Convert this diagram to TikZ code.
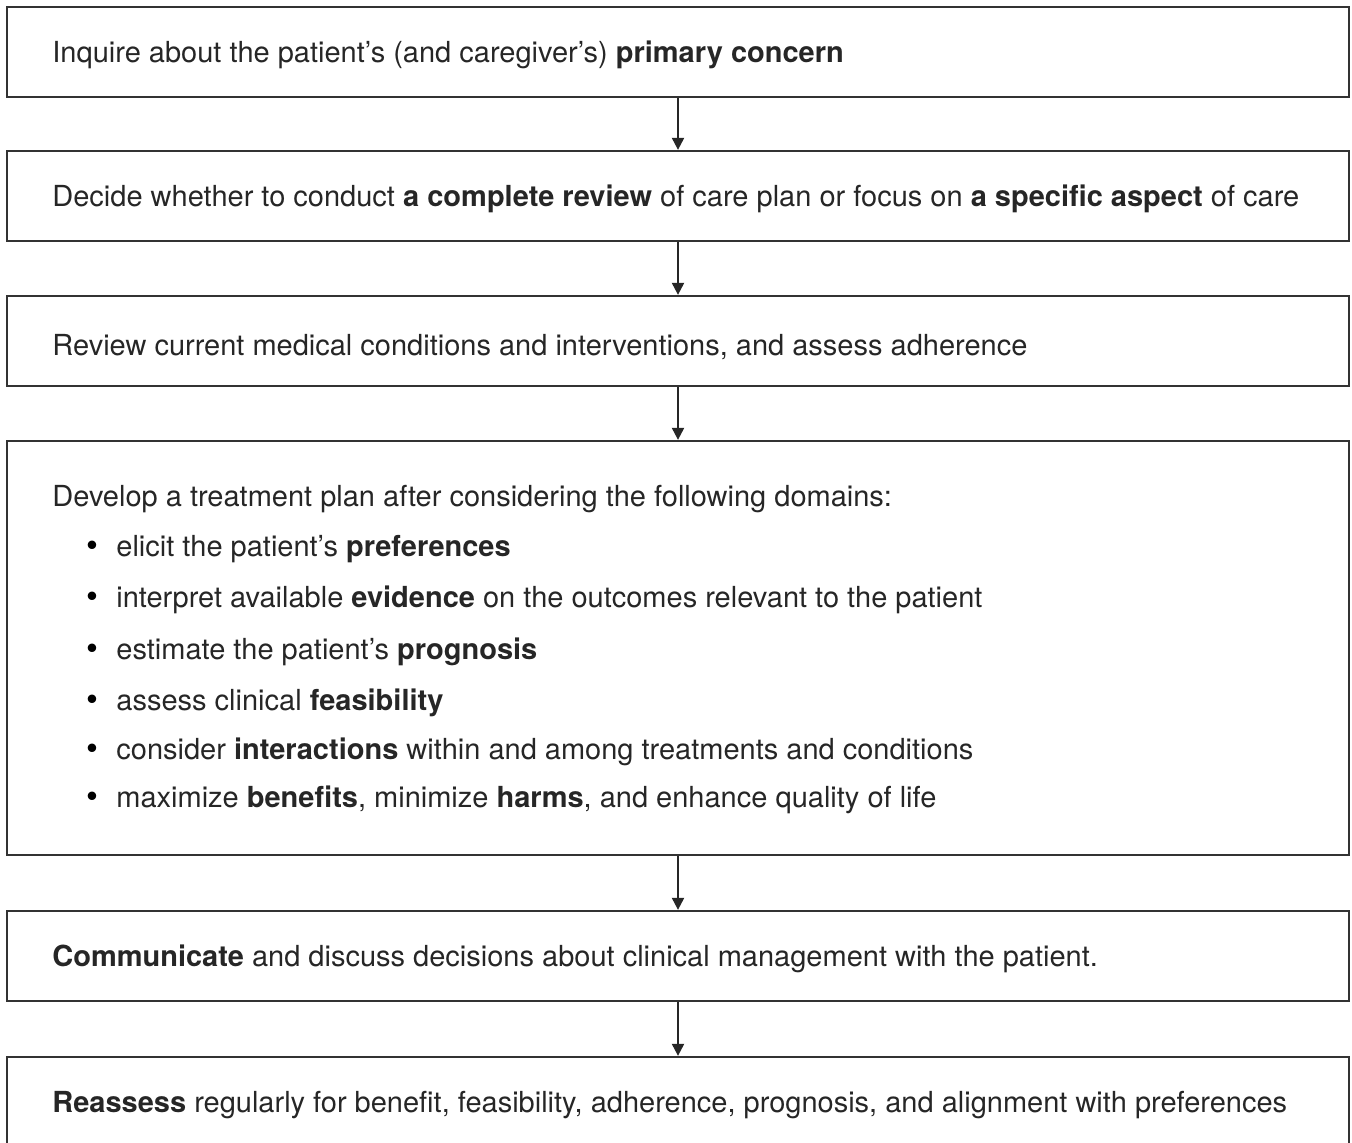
\documentclass[tikz,border=0pt]{standalone}
\usepackage{fontspec}
\setmainfont{TeX Gyre Heros}
\usetikzlibrary{arrows.meta}
\begin{document}
\begin{tikzpicture}[x=0.5pt,y=-0.5pt,
  box/.style={draw=black!80, line width=1.15pt, rectangle, inner sep=0pt, minimum width=671pt},
  txt/.style={anchor=base west, inner sep=0pt, font=\fontsize{14.5}{17}\selectfont, text=black!85},
  bul/.style={anchor=center, inner sep=0pt, font=\fontsize{17}{20}\selectfont\bfseries, text=black},
  conn/.style={draw=black!85, line width=1.05pt, -{Triangle[width=6pt,length=6pt]}}]
\useasboundingbox (0,0) rectangle (1352,1142);
\clip (0,0) rectangle (1352,1142);
% boxes
\node[box, minimum height=45pt] (b1) at (678,52) {};
\node[box, minimum height=45pt] (b2) at (678,196) {};
\node[box, minimum height=45pt] (b3) at (678,341) {};
\node[box, minimum height=207pt] (b4) at (678,648) {};
\node[box, minimum height=45pt] (b5) at (678,956) {};
\node[box, minimum height=60pt] (b6) at (678,1117) {};
% connectors
\draw[conn] (b1.south) -- (b2.north);
\draw[conn] (b2.south) -- (b3.north);
\draw[conn] (b3.south) -- (b4.north);
\draw[conn] (b4.south) -- (b5.north);
\draw[conn] (b5.south) -- (b6.north);
% texts
\node[txt] (t1) at (52,62) {Inquire about the patient’s (and caregiver’s) \textbf{primary concern}};
\node[txt] (t2) at (52,206) {Decide whether to conduct \textbf{a complete review} of care plan or focus on \textbf{a specific aspect} of care};
\node[txt] (t3) at (52,355) {Review current medical conditions and interventions, and assess adherence};
\node[txt] (t4) at (52,506) {Develop a treatment plan after considering the following domains:};
\foreach \yy/\nm in {556/p1,607/p2,659/p3,710/p4,759/p5,807/p6}{
  \node[bul] (d\nm) at (92.5,\yy-8) {\textbullet};
}
\node[txt] (p1) at (116,556) {elicit the patient’s \textbf{preferences}};
\node[txt] (p2) at (116,607) {interpret available \textbf{evidence} on the outcomes relevant to the patient};
\node[txt] (p3) at (116,659) {estimate the patient’s \textbf{prognosis}};
\node[txt] (p4) at (116,710) {assess clinical \textbf{feasibility}};
\node[txt] (p5) at (116,759) {consider \textbf{interactions} within and among treatments and conditions};
\node[txt] (p6) at (116,807) {maximize \textbf{benefits}, minimize \textbf{harms}, and enhance quality of life};
\node[txt] (t5) at (52,966) {\textbf{Communicate} and discuss decisions about clinical management with the patient.};
\node[txt] (t6) at (52,1112) {\textbf{Reassess} regularly for benefit, feasibility, adherence, prognosis, and alignment with preferences};
\end{tikzpicture}
\end{document}
